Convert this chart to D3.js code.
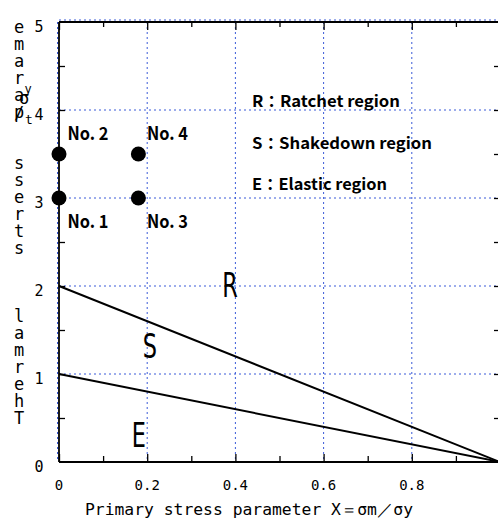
<!DOCTYPE html>
<html>
<head>
<meta charset="utf-8">
<script src="https://cdn.jsdelivr.net/npm/d3@7/dist/d3.min.js"></script>
<style>
  html, body { margin: 0; padding: 0; background: #fff; }
  svg { display: block; }
</style>
</head>
<body>
<script>
// Test points in the Bree-type diagram
const pointNames = ["No. 1", "No. 2", "No. 3", "No. 4"];
const pointX = [0, 0, 0.18, 0.18];
const pointY = [3, 3.5, 3, 3.5];

// Region boundaries: straight lines from (0, y0) to (1, 0)
const boundaryStartY = [2, 1];
const boundaryEndX = [1, 1];

// Region letters and their anchors (data units)
const regionKeys = ["R", "S", "E"];
const regionAnchorX = [0.388, 0.206, 0.181];
const regionAnchorY = [2.0, 1.31, 0.3];

// Legend
const legendKeys = ["R", "S", "E"];
const legendNames = ["Ratchet region", "Shakedown region", "Elastic region"];

// Axis ticks
const xTickValues = [0, 0.2, 0.4, 0.6, 0.8];
const xTickLabels = ["0", "0.2", "0.4", "0.6", "0.8"];
const xMinorTicks = [0.1, 0.3, 0.5, 0.7, 0.9];
const xGridValues = [0.2, 0.4, 0.6, 0.8];
const yTickValues = [0, 1, 2, 3, 4, 5];
const yTickLabels = ["0", "1", "2", "3", "4", "5"];
const yMinorTicks = [0.5, 1, 1.5, 2, 2.5, 3, 3.5, 4, 4.5];
const yGridValues = [1, 2, 3, 4];

const xTitle = "Primary stress parameter  X＝σm／σy";
const yTitleWords = "Thermal   stress  parame";

const W = 498, H = 522;
const svg = d3.select("body").append("svg").attr("width", W).attr("height", H);

const x = d3.scaleLinear().domain([0, 1]).range([59, 500]);
const y = d3.scaleLinear().domain([0, 5]).range([462, 22]);

const mono = "'DejaVu Sans Mono', monospace";
const gothic = "'Noto Sans CJK JP', 'DejaVu Sans', sans-serif";
const gridColor = "#3a5ad8";

// dotted grid
const grid = svg.append("g").attr("stroke", gridColor).attr("stroke-width", 1)
  .attr("stroke-dasharray", "2,3");
grid.selectAll("line.v").data(xGridValues).join("line")
  .attr("x1", d => x(d)).attr("x2", d => x(d))
  .attr("y1", y(5)).attr("y2", y(0));
grid.selectAll("line.h").data(yGridValues).join("line")
  .attr("x1", x(0)).attr("x2", x(1))
  .attr("y1", d => y(d)).attr("y2", d => y(d));
grid.append("line").attr("x1", x(0)).attr("x2", x(1)).attr("y1", y(5) - 2).attr("y2", y(5) - 2);
grid.append("line").attr("x1", x(0) - 1.5).attr("x2", x(0) - 1.5).attr("y1", y(5)).attr("y2", y(0));

// inward ticks on all four sides
function ticks(axis, transform) {
  const g = svg.append("g").attr("transform", transform).call(axis);
  g.select(".domain").remove();
  g.selectAll("line").attr("stroke", "#000").attr("stroke-width", 1.3);
  g.selectAll("text").remove();
  return g;
}
ticks(d3.axisBottom(x).tickValues(xTickValues.concat([1])).tickSize(-8), `translate(0,${y(0)})`);
ticks(d3.axisBottom(x).tickValues(xMinorTicks).tickSize(-6), `translate(0,${y(0)})`);
ticks(d3.axisTop(x).tickValues(xTickValues.concat([1])).tickSize(-8), `translate(0,${y(5)})`);
ticks(d3.axisTop(x).tickValues(xMinorTicks).tickSize(-5), `translate(0,${y(5)})`);
ticks(d3.axisLeft(y).tickValues(yMinorTicks).tickSize(-6), `translate(${x(0)},0)`);
ticks(d3.axisRight(y).tickValues(yMinorTicks).tickSize(-6), `translate(${x(1)},0)`);

// frame
const frame = svg.append("g").attr("stroke", "#000").attr("stroke-width", 1.8).attr("fill", "none");
frame.append("line").attr("x1", x(0)).attr("x2", x(1)).attr("y1", y(0)).attr("y2", y(0));
frame.append("line").attr("x1", x(0)).attr("x2", x(1)).attr("y1", y(5)).attr("y2", y(5));
frame.append("line").attr("x1", x(0)).attr("x2", x(0)).attr("y1", y(5)).attr("y2", y(0));
frame.append("line").attr("x1", x(1)).attr("x2", x(1)).attr("y1", y(5)).attr("y2", y(0));

// tick labels
svg.append("g").selectAll("text").data(xTickValues).join("text")
  .attr("x", d => x(d)).attr("y", 490)
  .attr("text-anchor", "middle").attr("font-family", mono).attr("font-size", 14)
  .attr("fill", "#000")
  .text((d, i) => xTickLabels[i]);
svg.append("g").selectAll("text").data(yTickValues).join("text")
  .attr("x", 39).attr("y", d => y(d) + 10)
  .attr("text-anchor", "middle").attr("font-family", mono).attr("font-size", 15)
  .attr("fill", "#000")
  .text((d, i) => yTickLabels[i]);

// x-axis title
svg.append("text").attr("x", 85).attr("y", 515)
  .attr("font-family", mono).attr("font-size", 16)
  .attr("textLength", 328).attr("lengthAdjust", "spacingAndGlyphs")
  .attr("fill", "#000").text(xTitle);

// y-axis title: upright glyphs stacked bottom to top
const yChars = Array.from(yTitleWords);
const step = 17, bottomY = 27 + step * (yChars.length - 1);
const yt = svg.append("g").attr("font-family", mono).attr("font-size", 17).attr("fill", "#000");
yChars.forEach((c, i) => {
  if (c === " ") return;
  yt.append("text").attr("x", 19).attr("y", bottomY - i * step)
    .attr("text-anchor", "middle").attr("dominant-baseline", "central").text(c);
});
// Y=σt/σy squeezed into the top of the column
const rY = bottomY - (yChars.length - 5) * step;   // the "r" of "parame"
const aY = rY + step;
yt.append("text").attr("x", 24).attr("y", rY + 3).attr("text-anchor", "middle")
  .attr("dominant-baseline", "central").attr("font-size", 17).text("σ");
yt.append("text").attr("x", 28).attr("y", rY - 6).attr("text-anchor", "middle")
  .attr("dominant-baseline", "central").attr("font-size", 12).text("y");
yt.append("text").attr("x", 19).attr("y", aY + 1).attr("text-anchor", "middle")
  .attr("dominant-baseline", "central").attr("font-size", 17).text("/");
yt.append("text").attr("x", 29).attr("y", aY + 7).attr("text-anchor", "middle")
  .attr("dominant-baseline", "central").attr("font-size", 13).text("t");

// boundary lines
svg.append("g").selectAll("line").data(boundaryStartY).join("line")
  .attr("x1", x(0)).attr("y1", d => y(d))
  .attr("x2", (d, i) => x(boundaryEndX[i])).attr("y2", y(0))
  .attr("stroke", "#000").attr("stroke-width", 2);

// region letters
svg.append("g").selectAll("text").data(regionKeys).join("text")
  .attr("transform", (d, i) => `translate(${x(regionAnchorX[i])},${y(regionAnchorY[i])}) scale(0.68,1)`)
  .attr("text-anchor", "middle").attr("dominant-baseline", "central")
  .attr("font-family", "'DejaVu Sans', sans-serif").attr("font-size", 33)
  .attr("fill", "#000").text(d => d);

// legend
const legendWidths = [148, 180, 135];
svg.append("g").selectAll("text").data(legendKeys).join("text")
  .attr("x", 252).attr("y", (d, i) => 107 + i * 41.5)
  .attr("font-family", gothic).attr("font-weight", 700).attr("font-size", 16)
  .attr("textLength", (d, i) => legendWidths[i]).attr("lengthAdjust", "spacingAndGlyphs")
  .attr("fill", "#000")
  .text((d, i) => `${d}：${legendNames[i]}`);

// test points and labels
const pts = pointNames.map((n, i) => ({ n, x: pointX[i], y: pointY[i] }));
svg.append("g").selectAll("circle").data(pts).join("circle")
  .attr("cx", d => x(d.x)).attr("cy", d => y(d.y)).attr("r", 7.5).attr("fill", "#000");
svg.append("g").selectAll("text").data(pts).join("text")
  .attr("x", d => x(d.x) + 8.5)
  .attr("y", d => d.y > 3.2 ? y(d.y) - 14 : y(d.y) + 30)
  .attr("font-family", gothic).attr("font-weight", 700).attr("font-size", 18)
  .attr("textLength", 41).attr("lengthAdjust", "spacingAndGlyphs")
  .attr("fill", "#000").text(d => d.n);
</script>
</body>
</html>
